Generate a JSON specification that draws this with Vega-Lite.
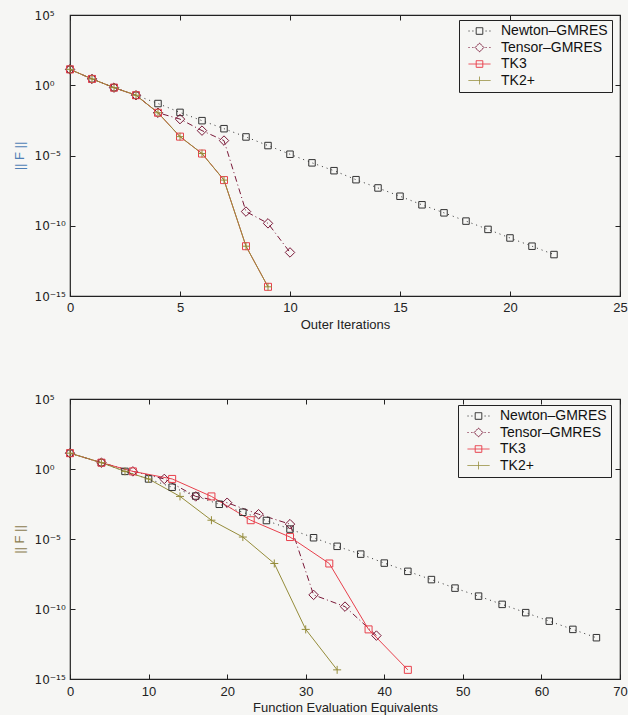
{
  "$schema": "https://vega.github.io/schema/vega-lite/v6.json",
  "padding": {"left": 12, "top": 8, "right": 0, "bottom": 0},
  "background": "#f6f6f4",
  "config": {
    "font": "Liberation Sans",
    "view": {"stroke": "#222222", "strokeWidth": 1.2, "fill": "#f6f6f4"},
    "axis": {"labelFont": "Liberation Sans", "labelFontSize": 13, "labelColor": "#222222", "labelFlush": false, "titleFont": "Liberation Sans", "titleFontSize": 13, "titleFontWeight": "normal", "titleColor": "#222222", "domain": false, "grid": false, "tickColor": "#222222", "tickSize": -5, "tickWidth": 1},
    "legend": {"labelFont": "Liberation Sans", "labelFontSize": 14, "labelColor": "#111111", "symbolSize": 121, "symbolStrokeWidth": 1, "padding": 4, "symbolOffset": 9.5, "labelOffset": 14.5, "rowPadding": 2.5, "fillColor": "#f6f6f4", "strokeColor": "#222222"}
  },
  "datasets": {
    "outer": [
      {"series": "Newton–GMRES", "x": 0, "y": 13.5}, {"series": "Newton–GMRES", "x": 1, "y": 2.82}, {"series": "Newton–GMRES", "x": 2, "y": 0.676}, {"series": "Newton–GMRES", "x": 3, "y": 0.195}, {"series": "Newton–GMRES", "x": 4, "y": 5.0e-2}, {"series": "Newton–GMRES", "x": 5, "y": 1.17e-2}, {"series": "Newton–GMRES", "x": 6, "y": 3.02e-3}, {"series": "Newton–GMRES", "x": 7, "y": 8.1e-4}, {"series": "Newton–GMRES", "x": 8, "y": 2.09e-4}, {"series": "Newton–GMRES", "x": 9, "y": 5.1e-5}, {"series": "Newton–GMRES", "x": 10, "y": 1.23e-5}, {"series": "Newton–GMRES", "x": 11, "y": 3.0e-6}, {"series": "Newton–GMRES", "x": 12, "y": 8.3e-7}, {"series": "Newton–GMRES", "x": 13, "y": 1.9e-7}, {"series": "Newton–GMRES", "x": 14, "y": 4.9e-8}, {"series": "Newton–GMRES", "x": 15, "y": 1.26e-8}, {"series": "Newton–GMRES", "x": 16, "y": 3.1e-9}, {"series": "Newton–GMRES", "x": 17, "y": 8.3e-10}, {"series": "Newton–GMRES", "x": 18, "y": 2.14e-10}, {"series": "Newton–GMRES", "x": 19, "y": 5.5e-11}, {"series": "Newton–GMRES", "x": 20, "y": 1.35e-11}, {"series": "Newton–GMRES", "x": 21, "y": 3.5e-12}, {"series": "Newton–GMRES", "x": 22, "y": 8.9e-13},
      {"series": "Tensor–GMRES", "x": 0, "y": 13.5}, {"series": "Tensor–GMRES", "x": 1, "y": 2.82}, {"series": "Tensor–GMRES", "x": 2, "y": 0.676}, {"series": "Tensor–GMRES", "x": 3, "y": 0.195}, {"series": "Tensor–GMRES", "x": 4, "y": 1.1e-2}, {"series": "Tensor–GMRES", "x": 5, "y": 3.9e-3}, {"series": "Tensor–GMRES", "x": 6, "y": 5.9e-4}, {"series": "Tensor–GMRES", "x": 7, "y": 1.15e-4}, {"series": "Tensor–GMRES", "x": 8, "y": 1.02e-9}, {"series": "Tensor–GMRES", "x": 9, "y": 1.48e-10}, {"series": "Tensor–GMRES", "x": 10, "y": 1.26e-12},
      {"series": "TK3", "x": 0, "y": 13.5}, {"series": "TK3", "x": 1, "y": 2.82}, {"series": "TK3", "x": 2, "y": 0.676}, {"series": "TK3", "x": 3, "y": 0.195}, {"series": "TK3", "x": 4, "y": 1.1e-2}, {"series": "TK3", "x": 5, "y": 2.2e-4}, {"series": "TK3", "x": 6, "y": 1.38e-5}, {"series": "TK3", "x": 7, "y": 1.78e-7}, {"series": "TK3", "x": 8, "y": 3.5e-12}, {"series": "TK3", "x": 9, "y": 4.5e-15},
      {"series": "TK2+", "x": 0, "y": 13.5}, {"series": "TK2+", "x": 1, "y": 2.82}, {"series": "TK2+", "x": 2, "y": 0.676}, {"series": "TK2+", "x": 3, "y": 0.195}, {"series": "TK2+", "x": 4, "y": 1.1e-2}, {"series": "TK2+", "x": 5, "y": 2.2e-4}, {"series": "TK2+", "x": 6, "y": 1.38e-5}, {"series": "TK2+", "x": 7, "y": 1.78e-7}, {"series": "TK2+", "x": 8, "y": 3.5e-12}, {"series": "TK2+", "x": 9, "y": 4.5e-15}
    ],
    "feval": [
      {"series": "Newton–GMRES", "x": 0, "y": 13.5}, {"series": "Newton–GMRES", "x": 4, "y": 2.82}, {"series": "Newton–GMRES", "x": 7, "y": 0.676}, {"series": "Newton–GMRES", "x": 10, "y": 0.195}, {"series": "Newton–GMRES", "x": 13, "y": 5.0e-2}, {"series": "Newton–GMRES", "x": 16, "y": 1.17e-2}, {"series": "Newton–GMRES", "x": 19, "y": 3.02e-3}, {"series": "Newton–GMRES", "x": 22, "y": 8.1e-4}, {"series": "Newton–GMRES", "x": 25, "y": 2.09e-4}, {"series": "Newton–GMRES", "x": 28, "y": 5.1e-5}, {"series": "Newton–GMRES", "x": 31, "y": 1.23e-5}, {"series": "Newton–GMRES", "x": 34, "y": 3.0e-6}, {"series": "Newton–GMRES", "x": 37, "y": 8.3e-7}, {"series": "Newton–GMRES", "x": 40, "y": 1.9e-7}, {"series": "Newton–GMRES", "x": 43, "y": 4.9e-8}, {"series": "Newton–GMRES", "x": 46, "y": 1.26e-8}, {"series": "Newton–GMRES", "x": 49, "y": 3.1e-9}, {"series": "Newton–GMRES", "x": 52, "y": 8.3e-10}, {"series": "Newton–GMRES", "x": 55, "y": 2.14e-10}, {"series": "Newton–GMRES", "x": 58, "y": 5.5e-11}, {"series": "Newton–GMRES", "x": 61, "y": 1.35e-11}, {"series": "Newton–GMRES", "x": 64, "y": 3.5e-12}, {"series": "Newton–GMRES", "x": 67, "y": 8.9e-13},
      {"series": "Tensor–GMRES", "x": 0, "y": 13.5}, {"series": "Tensor–GMRES", "x": 4, "y": 2.82}, {"series": "Tensor–GMRES", "x": 8, "y": 0.676}, {"series": "Tensor–GMRES", "x": 12, "y": 0.195}, {"series": "Tensor–GMRES", "x": 16, "y": 1.1e-2}, {"series": "Tensor–GMRES", "x": 20, "y": 3.9e-3}, {"series": "Tensor–GMRES", "x": 24, "y": 5.9e-4}, {"series": "Tensor–GMRES", "x": 28, "y": 1.15e-4}, {"series": "Tensor–GMRES", "x": 31, "y": 1.02e-9}, {"series": "Tensor–GMRES", "x": 35, "y": 1.48e-10}, {"series": "Tensor–GMRES", "x": 39, "y": 1.26e-12},
      {"series": "TK3", "x": 0, "y": 13.5}, {"series": "TK3", "x": 4, "y": 2.82}, {"series": "TK3", "x": 8, "y": 0.676}, {"series": "TK3", "x": 13, "y": 0.195}, {"series": "TK3", "x": 18, "y": 1.1e-2}, {"series": "TK3", "x": 23, "y": 2.2e-4}, {"series": "TK3", "x": 28, "y": 1.38e-5}, {"series": "TK3", "x": 33, "y": 1.78e-7}, {"series": "TK3", "x": 38, "y": 3.5e-12}, {"series": "TK3", "x": 43, "y": 4.5e-15},
      {"series": "TK2+", "x": 0, "y": 13.5}, {"series": "TK2+", "x": 4, "y": 2.82}, {"series": "TK2+", "x": 7, "y": 0.676}, {"series": "TK2+", "x": 10, "y": 0.195}, {"series": "TK2+", "x": 14, "y": 1.1e-2}, {"series": "TK2+", "x": 18, "y": 2.2e-4}, {"series": "TK2+", "x": 22, "y": 1.38e-5}, {"series": "TK2+", "x": 26, "y": 1.78e-7}, {"series": "TK2+", "x": 30, "y": 3.5e-12}, {"series": "TK2+", "x": 34, "y": 4.5e-15}
    ]
  },
  "spacing": 103,
  "bounds": "flush",
  "resolve": {"scale": {"color": "independent"}, "legend": {"color": "independent"}},
  "vconcat": [
    {
      "width": 550, "height": 281,
      "data": {"name": "outer"},
      "resolve": {"axis": {"x": "independent", "y": "independent"}},
      "layer": [
        {
          "encoding": {
            "x": {"field": "x", "type": "quantitative", "scale": {"domain": [0, 25], "nice": false, "zero": false}, "axis": {"values": [0, 5, 10, 15, 20, 25], "title": "Outer Iterations", "labelPadding": 10, "titlePadding": 4}},
            "y": {"field": "y", "type": "quantitative", "scale": {"type": "log", "domain": [1e-15, 1e5], "nice": false}, "axis": {"values": [1e5, 1, 1e-5, 1e-10, 1e-15], "labelExpr": "datum.value >= 1e4 ? '10⁵' : datum.value >= 0.5 ? '10⁰' : datum.value >= 1e-6 ? '10⁻⁵' : datum.value >= 1e-11 ? '10⁻¹⁰' : '10⁻¹⁵'", "labelFont": "DejaVu Sans", "labelFontSize": 12, "labelAlign": "left", "labelPadding": 41, "title": "|| F ||", "titleColor": "#4f7fb5", "titlePadding": 8}},
            "color": {"field": "series", "type": "nominal", "sort": null, "scale": {"domain": ["Newton–GMRES", "Tensor–GMRES", "TK3", "TK2+"], "range": ["#333333", "#7a1838", "#e8404c", "#958c3a"]},
              "legend": {"title": null, "orient": "none", "legendX": 389, "legendY": 5,
                "encode": {"symbols": {"update": {"shape": {"signal": "datum.value === 'Newton–GMRES' ? 'M-2,0h0.2M-1.3,0h0.2M-0.6,-0.6h1.2v1.2h-1.2zM1.1,0h0.2M1.8,0h0.2' : datum.value === 'Tensor–GMRES' ? 'M-2,0h0.2M-1.3,0h0.2M0,-0.8l0.8,0.8l-0.8,0.8l-0.8,-0.8zM1.1,0h0.2M1.8,0h0.2' : datum.value === 'TK3' ? 'M-2,0h4M-0.6,-0.6h1.2v1.2h-1.2z' : 'M-2,0h4M0,-0.7v1.4'"}, "fill": {"value": "transparent"}, "strokeWidth": {"value": 1}, "strokeDash": {"value": [1, 0]}}}}}}
          },
          "layer": [
            {"transform": [{"filter": "datum.series === 'Newton–GMRES'"}], "mark": {"type": "line", "strokeWidth": 1, "strokeDash": [1, 4]}},
            {"transform": [{"filter": "datum.series === 'Tensor–GMRES'"}], "mark": {"type": "line", "strokeWidth": 1, "strokeDash": [6, 3, 1, 3]}},
            {"transform": [{"filter": "datum.series === 'TK3'"}], "mark": {"type": "line", "strokeWidth": 1}},
            {"transform": [{"filter": "datum.series === 'TK2+'"}], "mark": {"type": "line", "strokeWidth": 1}},
            {"transform": [{"filter": "datum.series === 'Newton–GMRES'"}], "mark": {"type": "point", "shape": "square", "size": 42, "filled": false, "strokeWidth": 1, "opacity": 1}},
            {"transform": [{"filter": "datum.series === 'Tensor–GMRES'"}], "mark": {"type": "point", "shape": "diamond", "size": 90, "filled": false, "strokeWidth": 1, "opacity": 1}},
            {"transform": [{"filter": "datum.series === 'TK3'"}], "mark": {"type": "point", "shape": "square", "size": 49, "filled": false, "strokeWidth": 1, "opacity": 1}},
            {"transform": [{"filter": "datum.series === 'TK2+'"}], "mark": {"type": "point", "shape": "M-1,0H1M0,-1V1", "size": 64, "filled": false, "strokeWidth": 1, "opacity": 1}}
          ]
        },
        {
          "mark": {"type": "point", "opacity": 0},
          "encoding": {
            "x": {"field": "x", "type": "quantitative", "axis": {"orient": "top", "labels": false, "title": null, "values": [0, 5, 10, 15, 20, 25]}},
            "y": {"field": "y", "type": "quantitative", "axis": {"orient": "right", "labels": false, "title": null, "values": [1e5, 1, 1e-5, 1e-10, 1e-15]}}
          }
        }
      ]
    },
    {
      "width": 550, "height": 280,
      "data": {"name": "feval"},
      "resolve": {"axis": {"x": "independent", "y": "independent"}},
      "layer": [
        {
          "encoding": {
            "x": {"field": "x", "type": "quantitative", "scale": {"domain": [0, 70], "nice": false, "zero": false}, "axis": {"values": [0, 10, 20, 30, 40, 50, 60, 70], "title": "Function Evaluation Equivalents", "labelPadding": 11, "titlePadding": 3}},
            "y": {"field": "y", "type": "quantitative", "scale": {"type": "log", "domain": [1e-15, 1e5], "nice": false}, "axis": {"values": [1e5, 1, 1e-5, 1e-10, 1e-15], "labelExpr": "datum.value >= 1e4 ? '10⁵' : datum.value >= 0.5 ? '10⁰' : datum.value >= 1e-6 ? '10⁻⁵' : datum.value >= 1e-11 ? '10⁻¹⁰' : '10⁻¹⁵'", "labelFont": "DejaVu Sans", "labelFontSize": 12, "labelAlign": "left", "labelPadding": 41, "title": "|| F ||", "titleColor": "#8a7c50", "titlePadding": 8}},
            "color": {"field": "series", "type": "nominal", "sort": null, "scale": {"domain": ["Newton–GMRES", "Tensor–GMRES", "TK3", "TK2+"], "range": ["#333333", "#7a1838", "#e8404c", "#958c3a"]},
              "legend": {"title": null, "orient": "none", "legendX": 388, "legendY": 6,
                "encode": {"symbols": {"update": {"shape": {"signal": "datum.value === 'Newton–GMRES' ? 'M-2,0h0.2M-1.3,0h0.2M-0.6,-0.6h1.2v1.2h-1.2zM1.1,0h0.2M1.8,0h0.2' : datum.value === 'Tensor–GMRES' ? 'M-2,0h0.2M-1.3,0h0.2M0,-0.8l0.8,0.8l-0.8,0.8l-0.8,-0.8zM1.1,0h0.2M1.8,0h0.2' : datum.value === 'TK3' ? 'M-2,0h4M-0.6,-0.6h1.2v1.2h-1.2z' : 'M-2,0h4M0,-0.7v1.4'"}, "fill": {"value": "transparent"}, "strokeWidth": {"value": 1}, "strokeDash": {"value": [1, 0]}}}}}}
          },
          "layer": [
            {"transform": [{"filter": "datum.series === 'Newton–GMRES'"}], "mark": {"type": "line", "strokeWidth": 1, "strokeDash": [1, 4]}},
            {"transform": [{"filter": "datum.series === 'Tensor–GMRES'"}], "mark": {"type": "line", "strokeWidth": 1, "strokeDash": [6, 3, 1, 3]}},
            {"transform": [{"filter": "datum.series === 'TK3'"}], "mark": {"type": "line", "strokeWidth": 1}},
            {"transform": [{"filter": "datum.series === 'TK2+'"}], "mark": {"type": "line", "strokeWidth": 1}},
            {"transform": [{"filter": "datum.series === 'Newton–GMRES'"}], "mark": {"type": "point", "shape": "square", "size": 42, "filled": false, "strokeWidth": 1, "opacity": 1}},
            {"transform": [{"filter": "datum.series === 'Tensor–GMRES'"}], "mark": {"type": "point", "shape": "diamond", "size": 90, "filled": false, "strokeWidth": 1, "opacity": 1}},
            {"transform": [{"filter": "datum.series === 'TK3'"}], "mark": {"type": "point", "shape": "square", "size": 49, "filled": false, "strokeWidth": 1, "opacity": 1}},
            {"transform": [{"filter": "datum.series === 'TK2+'"}], "mark": {"type": "point", "shape": "M-1,0H1M0,-1V1", "size": 64, "filled": false, "strokeWidth": 1, "opacity": 1}}
          ]
        },
        {
          "mark": {"type": "point", "opacity": 0},
          "encoding": {
            "x": {"field": "x", "type": "quantitative", "axis": {"orient": "top", "labels": false, "title": null, "values": [0, 10, 20, 30, 40, 50, 60, 70]}},
            "y": {"field": "y", "type": "quantitative", "axis": {"orient": "right", "labels": false, "title": null, "values": [1e5, 1, 1e-5, 1e-10, 1e-15]}}
          }
        }
      ]
    }
  ]
}
